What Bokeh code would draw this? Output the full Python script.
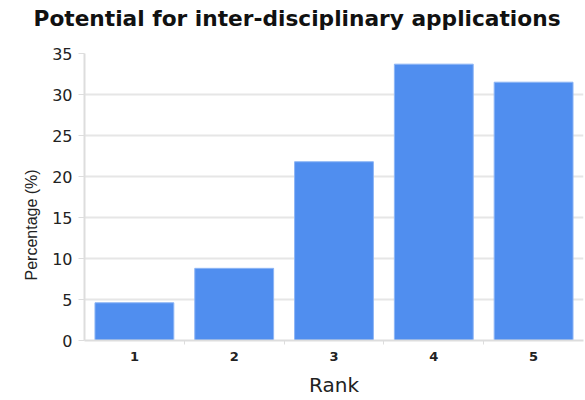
from bokeh.plotting import figure
from bokeh.models import FixedTicker, Range1d, ColumnDataSource, Title
from bokeh.embed import file_html
from bokeh.resources import INLINE

ranks = [1, 2, 3, 4, 5]
percentages = [4.6, 8.8, 21.8, 33.7, 31.5]
rank_labels = ["1", "2", "3", "4", "5"]
y_ticks = [0, 5, 10, 15, 20, 25, 30, 35]

src = ColumnDataSource(dict(x=ranks, top=percentages))

p = figure(width=585, height=400, output_backend="svg", toolbar_location=None,
           x_range=Range1d(0.5, 5.5), y_range=Range1d(0, 35),
           min_border_left=84, min_border_right=2, min_border_top=53, min_border_bottom=60)
p.outline_line_color = None

p.vbar(x="x", top="top", width=0.79, bottom=0, source=src,
       fill_color="#508EEF", line_color="#8DB5F5", line_width=1)

# spacer title next to the frame, then the real title above it
spacer = Title(text=" ", text_font_size="19px", standoff=0)
p.add_layout(spacer, "above")
main_title = Title(text="Potential for inter-disciplinary applications",
                   text_font="DejaVu Sans", text_font_size="21.7px", text_font_style="bold",
                   align="left", offset=-51, text_color="#111111", standoff=0)
p.add_layout(main_title, "above")

p.xgrid.grid_line_color = None
p.ygrid.grid_line_color = "#e6e6e6"
p.ygrid.grid_line_width = 2
p.ygrid.ticker = FixedTicker(ticks=y_ticks)

xt = FixedTicker(ticks=ranks, minor_ticks=[r + 0.5 for r in ranks[:-1]])
p.xaxis.ticker = xt
p.xaxis.major_label_overrides = {r: l for r, l in zip(ranks, rank_labels)}
p.xaxis.major_tick_out = 0
p.xaxis.major_tick_in = 0
p.xaxis.minor_tick_out = 4
p.xaxis.minor_tick_in = 0
p.xaxis.minor_tick_line_color = "#dddddd"
p.xaxis.major_label_text_font = "DejaVu Sans"
p.xaxis.major_label_text_font_size = "13px"
p.xaxis.major_label_text_font_style = "bold"
p.xaxis.major_label_text_color = "#222222"
p.xaxis.major_label_standoff = 7
p.xaxis.axis_label = "Rank"
p.xaxis.axis_label_text_font = "DejaVu Sans"
p.xaxis.axis_label_text_font_size = "20px"
p.xaxis.axis_label_text_font_style = "normal"
p.xaxis.axis_label_text_color = "#222222"
p.xaxis.axis_label_standoff = 9

p.yaxis.ticker = FixedTicker(ticks=y_ticks)
p.yaxis.minor_tick_line_color = None
p.yaxis.major_tick_out = 6
p.yaxis.major_tick_in = 0
p.yaxis.major_tick_line_color = "#dddddd"
p.yaxis.major_label_text_font = "DejaVu Sans"
p.yaxis.major_label_text_font_size = "16px"
p.yaxis.major_label_text_color = "#222222"
p.yaxis.major_label_standoff = 6

ytitle = Title(text="Percentage (%)", align="left", offset=60, standoff=20,
               text_font="Liberation Sans", text_font_size="16px",
               text_font_style="normal", text_color="#222222")
p.add_layout(ytitle, "left")

for ax in (p.xaxis, p.yaxis):
    ax.axis_line_color = "#dddddd"
    ax.axis_line_width = 2

open("out.html", "w").write(file_html(p, INLINE))
